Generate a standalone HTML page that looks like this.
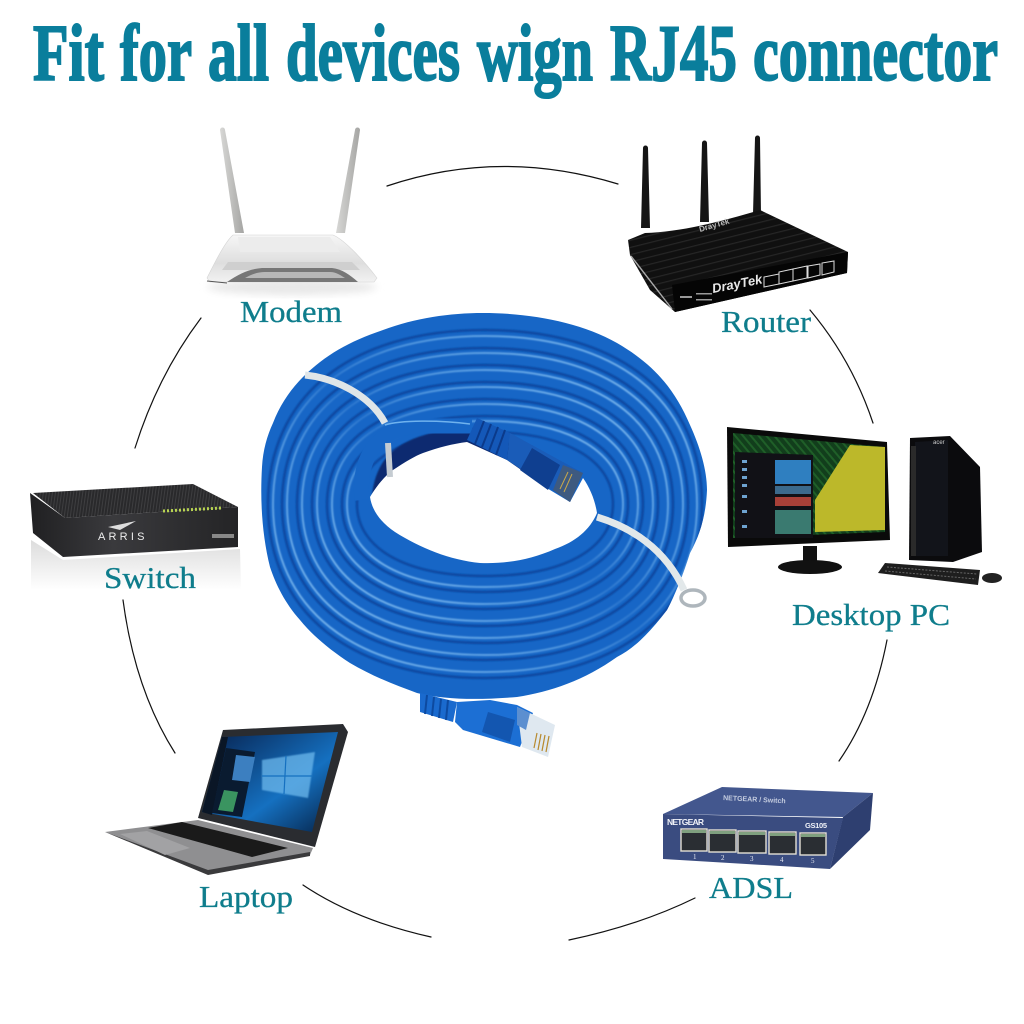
<!DOCTYPE html>
<html><head><meta charset="utf-8"><style>
html,body{margin:0;padding:0;background:#fff}svg{display:block}
text{font-family:"Liberation Serif",serif}
.l{fill:#0f7d8c;font-size:31px;stroke:#0f7d8c;stroke-width:.3}
.t{font-size:80px;font-weight:bold;fill:#0a7e9c;stroke:#0a7e9c;stroke-width:2}
.s{font-family:"Liberation Sans",sans-serif}
.a{fill:none;stroke:#111;stroke-width:1.2;stroke-linecap:round}
</style></head><body>
<svg xmlns="http://www.w3.org/2000/svg" width="1024" height="1024" viewBox="0 0 1024 1024">
<defs>
<path id="r" vector-effect="non-scaling-stroke" fill="none" d="M0,-1 C.62,-1 1,-.62 1,0 S.62,1 0,1 S-1,.62 -1,0 S-.62,-1 0,-1Z"/>
<filter id="b" x="-5%" y="-5%" width="110%" height="110%"><feGaussianBlur stdDeviation=".8"/></filter>
<filter id="b2" x="-30%" y="-30%" width="160%" height="160%"><feGaussianBlur stdDeviation="2"/></filter>
<filter id="b3" x="-20%" y="-20%" width="140%" height="140%"><feGaussianBlur stdDeviation="4"/></filter>
<linearGradient id="ref" x1="0" y1="0" x2="0" y2="1"><stop offset="0" stop-color="#dcdcdc"/><stop offset="1" stop-color="#fff"/></linearGradient>
<linearGradient id="lap" x1="0" y1="0" x2="1" y2="1"><stop offset="0" stop-color="#071f4a"/><stop offset=".6" stop-color="#1570c0"/><stop offset="1" stop-color="#051f42"/></linearGradient>
<linearGradient id="mod" x1="0" y1="0" x2="0" y2="1"><stop offset="0" stop-color="#f6f6f6"/><stop offset=".6" stop-color="#dedede"/><stop offset="1" stop-color="#f2f2f2"/></linearGradient>
<linearGradient id="ant" x1="0" y1="0" x2="1" y2="0"><stop offset="0" stop-color="#d8d8d6"/><stop offset="1" stop-color="#a5a5a3"/></linearGradient>
<linearGradient id="hlg" x1="0" y1="1" x2="1" y2="0"><stop offset="0" stop-color="#8cc4f4" stop-opacity=".95"/><stop offset=".35" stop-color="#7fbdf2" stop-opacity=".55"/><stop offset=".5" stop-color="#7fbdf2" stop-opacity=".2"/><stop offset=".65" stop-color="#7fbdf2" stop-opacity=".55"/><stop offset="1" stop-color="#8cc4f4" stop-opacity=".95"/></linearGradient>
<linearGradient id="sf" x1="0" y1="0" x2="1" y2="0"><stop offset="0" stop-color="#202022"/><stop offset=".4" stop-color="#3a3a3d"/><stop offset="1" stop-color="#242426"/></linearGradient>
<pattern id="st" width="3" height="3" patternUnits="userSpaceOnUse" patternTransform="rotate(8)"><rect width="3" height="3" fill="#29292b"/><rect width="1" height="3" fill="#3e3e40"/></pattern>
<pattern id="st2" width="7" height="7" patternUnits="userSpaceOnUse" patternTransform="rotate(-14)"><rect width="7" height="7" fill="#101010"/><rect width="7" height="1.2" fill="#262626"/></pattern>
<pattern id="gr" width="6" height="6" patternUnits="userSpaceOnUse" patternTransform="rotate(-40)"><rect width="6" height="6" fill="#123e1c"/><rect width="2" height="6" fill="#1f5f28"/></pattern>
<clipPath id="sil"><path d="M483,313 C530,313 580,322 617,343 C655,365 675,390 690,425 C700,447 707,470 707,490 C706,515 700,535 690,553 C683,575 675,595 667,610 C650,632 635,648 617,657 C585,680 550,692 517,697 C480,700 445,700 417,693 C395,685 372,676 350,663 C330,650 312,635 300,620 C285,603 276,585 270,567 C262,535 260,500 262,467 C263,450 267,436 273,423 C280,405 290,390 303,377 C325,355 350,341 383,330 C415,318 450,313 483,313Z"/></clipPath>
</defs>
<rect width="1024" height="1024" fill="#fff"/>

<text class="t" x="33" y="80" textLength="71" lengthAdjust="spacingAndGlyphs">Fit</text>
<text class="t" x="120" y="80" textLength="72" lengthAdjust="spacingAndGlyphs">for</text>
<text class="t" x="208" y="80" textLength="61" lengthAdjust="spacingAndGlyphs">all</text>
<text class="t" x="286" y="80" textLength="174" lengthAdjust="spacingAndGlyphs">devices</text>
<text class="t" x="477" y="80" textLength="116" lengthAdjust="spacingAndGlyphs">wign</text>
<text class="t" x="610" y="80" textLength="127" lengthAdjust="spacingAndGlyphs">RJ45</text>
<text class="t" x="753" y="80" textLength="245" lengthAdjust="spacingAndGlyphs">connector</text>

<!-- arcs -->
<path class="a" d="M387,186 Q500,148 618,184"/>
<path class="a" d="M810,310 Q852,360 873,423"/>
<path class="a" d="M887,640 Q873,712 839,761"/>
<path class="a" d="M569,940 Q640,925 695,898"/>
<path class="a" d="M303,885 Q355,920 431,937"/>
<path class="a" d="M123,600 Q135,690 175,753"/>
<path class="a" d="M135,448 Q158,375 201,318"/>

<!-- cable coil -->
<path fill="#1766c6" d="M483,313 C530,313 580,322 617,343 C655,365 675,390 690,425 C700,447 707,470 707,490 C706,515 700,535 690,553 C683,575 675,595 667,610 C650,632 635,648 617,657 C585,680 550,692 517,697 C480,700 445,700 417,693 C395,685 372,676 350,663 C330,650 312,635 300,620 C285,603 276,585 270,567 C262,535 260,500 262,467 C263,450 267,436 273,423 C280,405 290,390 303,377 C325,355 350,341 383,330 C415,318 450,313 483,313Z"/>
<g clip-path="url(#sil)">
<g filter="url(#b)">
<g stroke="#0c48a2" stroke-width="2.6">
<use href="#r" transform="translate(485,504) scale(128,72)"/>
<use href="#r" transform="translate(485,504) scale(143,88)"/>
<use href="#r" transform="translate(485,504) scale(158,105)"/>
<use href="#r" transform="translate(485,504) scale(173,122)"/>
<use href="#r" transform="translate(485,504) scale(188,139)"/>
<use href="#r" transform="translate(485,504) scale(203,156)"/>
<use href="#r" transform="translate(485,504) scale(217,174)"/>
</g>
<g stroke="url(#hlg)" stroke-width="2">
<use href="#r" transform="translate(485,504) scale(138,83)"/>
<use href="#r" transform="translate(485,504) scale(153,100)"/>
<use href="#r" transform="translate(485,504) scale(168,117)"/>
<use href="#r" transform="translate(485,504) scale(183,134)"/>
<use href="#r" transform="translate(485,504) scale(198,151)"/>
<use href="#r" transform="translate(485,504) scale(212,168)"/>
</g>
</g>
</g>

<!-- inner loop and shadow -->
<path fill="#0a2a70" filter="url(#b)" d="M372,495 C376,460 395,432 470,428 L515,445 L560,480 L400,490Z"/>
<path fill="none" stroke="#1766c6" stroke-width="15" d="M362,500 C358,460 375,428 420,426 L472,426"/>
<path fill="none" stroke="#6fb2ee" stroke-width="1.5" d="M385,425 C400,420 440,420 470,424"/>
<!-- hole -->
<path fill="#fff" d="M370,497 C378,484 385,476 393,470 C405,462 415,456 423,453 C440,447 452,444 467,442 L507,460 L550,490 L570,502 L583,478 C590,488 595,500 597,513 C590,530 575,542 555,549 C530,560 505,564 480,563 C450,560 420,548 395,532 C380,522 372,510 370,497Z"/>

<!-- top connector -->
<polygon fill="#1458b8" points="477,418 510,433 507,460 467,440"/>
<g stroke="#0b3a8a" stroke-width="2"><line x1="484" y1="421" x2="475" y2="444"/><line x1="491" y1="424" x2="482" y2="447"/><line x1="498" y1="427" x2="489" y2="451"/><line x1="505" y1="430" x2="496" y2="455"/></g>
<polygon fill="#1a5cb8" points="510,433 583,473 570,502 507,460"/>
<polygon fill="#0f3f90" points="532,448 560,465 548,490 520,470"/>
<polygon fill="#3e5a80" points="563,465 583,473 570,502 553,490"/>
<g stroke="#c9a84a" stroke-width="1"><line x1="568" y1="472" x2="560" y2="489"/><line x1="572" y1="474" x2="564" y2="492"/></g>

<!-- bottom connector -->
<polygon fill="#1a6ace" points="420,693 457,702 453,722 420,712"/>
<g stroke="#0d4aa0" stroke-width="2"><line x1="427" y1="695" x2="425" y2="714"/><line x1="434" y1="697" x2="432" y2="716"/><line x1="441" y1="699" x2="439" y2="718"/><line x1="448" y1="700" x2="446" y2="720"/></g>
<polygon fill="#1c6fd4" points="457,702 490,700 517,705 533,713 520,747 463,730 455,722"/>
<polygon fill="#1356b0" points="488,712 515,720 510,742 482,732"/>
<polygon fill="#dfe8f0" points="517,707 555,725 548,757 522,747"/>
<polygon fill="#5c8fd0" points="517,707 530,713 526,730 517,725"/>
<g stroke="#b88a2e" stroke-width="1.2"><line x1="537" y1="733" x2="534" y2="748"/><line x1="541" y1="734" x2="538" y2="750"/><line x1="545" y1="735" x2="542" y2="751"/><line x1="549" y1="736" x2="546" y2="752"/></g>

<!-- ties -->
<path fill="none" stroke="#dfe5e8" stroke-width="7" d="M305,375 C335,378 370,395 385,423"/>
<path fill="none" stroke="#c5ccd2" stroke-width="6" d="M388,443 L390,477"/>
<path fill="none" stroke="#e2e8ea" stroke-width="7" d="M597,517 C630,527 665,548 684,590"/>
<ellipse cx="693" cy="598" rx="12" ry="8" fill="none" stroke="#aeb6bc" stroke-width="3.5"/>

<!-- MODEM -->
<ellipse cx="292" cy="287" rx="85" ry="8" fill="#e8e8e8" filter="url(#b3)"/>
<path fill="url(#ant)" d="M220,130 A2.5,2.5 0 0 1 225,130 L244,233 H235Z"/>
<path fill="url(#ant)" d="M355,130 A2.5,2.5 0 0 1 360,130 L345,233 H336Z"/>
<path fill="url(#mod)" stroke="#d4d4d4" stroke-width=".6" d="M233,235 L333,235 C345,240 365,262 377,278 L374,282 L210,282 L207,278 C215,262 225,242 233,235Z"/>
<path fill="#ececec" d="M238,237 H330 L340,252 H240Z"/>
<path fill="#cfcfcf" d="M228,262 H352 L360,270 H222Z"/>
<path fill="#777" d="M227,282 C240,273 250,269 262,268 H332 C342,269 350,275 358,282Z"/>
<path fill="#b8b8b8" d="M245,278 C252,274 258,272 265,272 H330 C336,272 340,275 345,278Z"/>
<line x1="207" y1="281" x2="227" y2="283" stroke="#555"/>

<!-- ROUTER -->
<g fill="#151515">
<path d="M643,148 A2.5,2.5 0 0 1 648,148 L650,228 H641Z"/>
<path d="M702,143 A2.5,2.5 0 0 1 707,143 L709,222 H700Z"/>
<path d="M755,138 A2.5,2.5 0 0 1 760,138 L761,214 H753Z"/>
</g>
<path fill="url(#st2)" d="M628,240 L645,233 C680,232 720,222 760,210 L848,252 L847,273 L675,312 L650,290 L630,255Z"/>
<line x1="631" y1="256" x2="672" y2="309" stroke="#aaa" stroke-width="1.4"/>
<polygon fill="#050505" points="672,285 848,252 847,273 675,312"/>
<text x="713" y="293" font-size="13" font-weight="bold" font-style="italic" fill="#e8e8e8" transform="rotate(-11 713 293)" class="s">DrayTek</text>
<text x="700" y="232" font-size="8" font-weight="bold" fill="#bbb" transform="rotate(-16 700 232)" class="s">DrayTek</text>
<g fill="none" stroke="#ddd" stroke-width="1">
<path d="M764,287 V277 L779,274 V284Z"/><path d="M779,284 V272 L793,269 V281Z"/><path d="M793,281 V269 L807,266 V278Z"/><path d="M808,278 V266 L820,264 V275Z"/><path d="M822,275 V263 L834,261 V272Z"/>
</g>
<g fill="#999"><rect x="680" y="296" width="12" height="2"/><rect x="696" y="293" width="16" height="1.5"/><rect x="696" y="299" width="16" height="1.5"/></g>

<!-- DESKTOP -->
<polygon fill="#0a0a0a" points="727,427 887,442 890,540 728,547"/>
<polygon fill="url(#gr)" points="733,433 885,447 885,532 733,538"/>
<polygon fill="#bcb82a" points="850,445 885,447 885,530 815,532 815,500"/>
<polygon fill="#111116" points="735,452 813,455 813,538 735,538"/>
<rect x="775" y="460" width="36" height="24" fill="#2f7fc0"/>
<rect x="775" y="486" width="36" height="8" fill="#3c6a8c"/>
<rect x="775" y="497" width="36" height="9" fill="#a84038"/>
<rect x="775" y="510" width="36" height="24" fill="#3a7a70"/>
<g fill="#6ea3d0"><rect x="742" y="460" width="5" height="3"/><rect x="742" y="468" width="5" height="3"/><rect x="742" y="476" width="5" height="3"/><rect x="742" y="484" width="5" height="3"/><rect x="742" y="495" width="5" height="3"/><rect x="742" y="510" width="5" height="3"/><rect x="742" y="525" width="5" height="3"/></g>
<rect x="803" y="546" width="14" height="18" fill="#111"/>
<ellipse cx="810" cy="567" rx="32" ry="7" fill="#111"/>
<polygon fill="#0b0b0d" points="910,438 950,436 980,467 982,552 953,562 909,560"/>
<polygon fill="#12141a" points="915,442 948,440 948,556 915,556"/>
<rect x="911" y="446" width="5" height="110" fill="#2a2a2a"/>
<text x="933" y="444" font-size="6" fill="#ccc" class="s">acer</text>
<polygon fill="#1e1e1e" points="885,563 980,570 978,585 878,573"/>
<g stroke="#666" stroke-width="1" stroke-dasharray="2 1.5"><line x1="887" y1="567" x2="977" y2="574"/><line x1="885" y1="571" x2="976" y2="579"/></g>
<ellipse cx="992" cy="578" rx="10" ry="5" fill="#222"/>

<!-- SWITCH -->
<polygon fill="url(#ref)" points="31,540 63,560 240,549 241,590 31,590"/>
<polygon fill="url(#st)" points="33,493 193,484 238,507 65,518"/>
<polygon fill="url(#sf)" points="30,493 65,518 238,507 238,547 63,557 33,533"/>
<line x1="163" y1="511" x2="222" y2="508" stroke="#b8d452" stroke-width="3" stroke-dasharray="2 2"/>
<text x="98" y="540" font-size="11" fill="#eee" letter-spacing="3.2" class="s">ARRIS</text>
<path d="M108,527 L136,521 L120,530Z" fill="#ddd"/>
<rect x="212" y="534" width="22" height="4" fill="#888"/>

<!-- LAPTOP -->
<polygon fill="#2a2c30" points="223,730 343,724 348,732 315,847 198,818"/>
<polygon fill="url(#lap)" points="222,737 338,732 312,832 202,812"/>
<polygon fill="#6cb8ec" opacity=".75" filter="url(#b)" points="262,760 315,752 308,798 262,790"/>
<g stroke="#1570c0" stroke-width="1.2"><line x1="286" y1="756" x2="284" y2="794"/><line x1="262" y1="776" x2="312" y2="776"/></g>
<polygon fill="#0a1626" points="222,737 228,737 212,815 202,812"/>
<polygon fill="#0a1b30" points="226,748 255,752 242,817 212,813"/>
<polygon fill="#3a9460" points="224,790 238,792 233,812 218,810"/>
<polygon fill="#3c7fc0" points="236,755 255,757 250,782 232,780"/>
<polygon fill="#8f8f91" points="198,820 313,848 310,855 208,873 105,832"/>
<polygon fill="#3a3a3c" points="105,832 208,870 310,852 310,856 208,875"/>
<polygon fill="#1a1a1a" points="148,828 182,822 288,848 252,857"/>
<polygon fill="#a2a2a4" points="120,834 147,831 190,848 165,855"/>

<!-- ADSL -->
<polygon fill="#43578e" points="663,814 722,787 873,793 843,817"/>
<polygon fill="#2e3f70" points="843,817 873,793 870,830 830,869"/>
<polygon fill="#3a4c80" points="663,814 843,818 830,869 663,859"/>
<text x="723" y="800" font-size="7" font-weight="bold" fill="#c5cde0" transform="rotate(3 723 800)" class="s">NETGEAR / Switch</text>
<text x="667" y="825" font-size="8.5" font-weight="bold" fill="#f0f2f8" textLength="37" class="s">NETGEAR</text>
<text x="805" y="828" font-size="7.5" font-weight="bold" fill="#f0f2f8" textLength="22" class="s">GS105</text>
<g fill="#2a2e33" stroke="#e4e0d4" stroke-width="1.4">
<rect x="681" y="829" width="26" height="22"/><rect x="709" y="830" width="27" height="22"/><rect x="738" y="831" width="28" height="22"/><rect x="769" y="832" width="27" height="22"/><rect x="800" y="833" width="26" height="22"/>
</g>
<g fill="#7fa07f"><rect x="682" y="830" width="24" height="3"/><rect x="710" y="831" width="25" height="3"/><rect x="739" y="832" width="26" height="3"/><rect x="770" y="833" width="25" height="3"/><rect x="801" y="834" width="24" height="3"/></g>
<g fill="#e6e9f2" font-size="7" class="s"><text x="693" y="859">1</text><text x="721" y="860">2</text><text x="750" y="861">3</text><text x="780" y="862">4</text><text x="811" y="863">5</text></g>

<!-- labels -->
<text class="l" x="240" y="322" textLength="102" lengthAdjust="spacingAndGlyphs">Modem</text>
<text class="l" x="721" y="332" textLength="90" lengthAdjust="spacingAndGlyphs">Router</text>
<text class="l" x="792" y="625" textLength="158" lengthAdjust="spacingAndGlyphs">Desktop PC</text>
<text class="l" x="104" y="588" textLength="92" lengthAdjust="spacingAndGlyphs">Switch</text>
<text class="l" x="199" y="907" textLength="94" lengthAdjust="spacingAndGlyphs">Laptop</text>
<text class="l" x="709" y="898" textLength="84" lengthAdjust="spacingAndGlyphs">ADSL</text>
</svg>
</body></html>
